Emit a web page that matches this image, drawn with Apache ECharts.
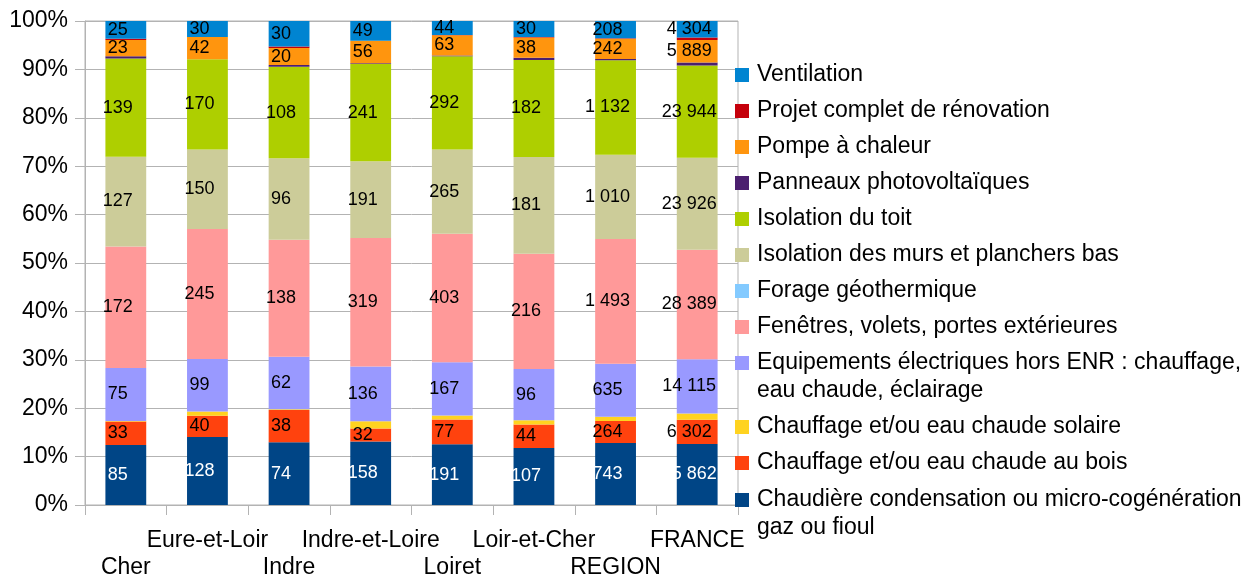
<!DOCTYPE html>
<html>
<head>
<meta charset="utf-8">
<script src="https://cdn.jsdelivr.net/npm/echarts@6/dist/echarts.min.js"></script>
<style>
html,body{margin:0;padding:0;background:#fff;}
#chart{width:1251px;height:575px;}
</style>
</head>
<body>
<div id="chart"></div>
<script>
const categories = ['Cher','Eure-et-Loir','Indre','Indre-et-Loire','Loiret','Loir-et-Cher','REGION','FRANCE'];
const chaudiere   = [85,128,74,158,191,107,743,15862];
const bois        = [33,40,38,32,77,44,264,6302];
const solaire     = [1,8,1,18,13,8,49,1600];
const electrique  = [75,99,62,136,167,96,635,14115];
const fenetres    = [172,245,138,319,403,216,1493,28389];
const geothermie  = [0,0,0,0,0,0,0,0];
const isolMurs    = [127,150,96,191,265,181,1010,23926];
const isolToit    = [139,170,108,241,292,182,1132,23944];
const photovolt   = [3,0,2,2,3,4,14,750];
const pac         = [23,42,20,56,63,38,242,5889];
const projet      = [2,0,2,0,1,1,6,600];
const ventilation = [25,30,30,49,44,30,208,4304];
const yTickLabels = ['0%','10%','20%','30%','40%','50%','60%','70%','80%','90%','100%'];

const N_CHAUD = 'Chaudière condensation ou micro-cogénération\ngaz ou fioul';
const N_BOIS = 'Chauffage et/ou eau chaude au bois';
const N_SOL = 'Chauffage et/ou eau chaude solaire';
const N_ELEC = 'Equipements électriques hors ENR : chauffage,\neau chaude, éclairage';
const N_FEN = 'Fenêtres, volets, portes extérieures';
const N_GEO = 'Forage géothermique';
const N_MURS = 'Isolation des murs et planchers bas';
const N_TOIT = 'Isolation du toit';
const N_PV = 'Panneaux photovoltaïques';
const N_PAC = 'Pompe à chaleur';
const N_PROJ = 'Projet complet de rénovation';
const N_VENT = 'Ventilation';

const seriesDefs = [
  {name:N_CHAUD, data:chaudiere, color:'#004586', label:true, labelColor:'#ffffff'},
  {name:N_BOIS, data:bois, color:'#ff420e', label:true},
  {name:N_SOL, data:solaire, color:'#ffd320', label:false},
  {name:N_ELEC, data:electrique, color:'#9999ff', label:true},
  {name:N_FEN, data:fenetres, color:'#ff9999', label:true},
  {name:N_GEO, data:geothermie, color:'#83caff', label:false},
  {name:N_MURS, data:isolMurs, color:'#cccc99', label:true},
  {name:N_TOIT, data:isolToit, color:'#aecf00', label:true},
  {name:N_PV, data:photovolt, color:'#4b1f6f', label:false},
  {name:N_PAC, data:pac, color:'#ff950e', label:true},
  {name:N_PROJ, data:projet, color:'#c5000b', label:false},
  {name:N_VENT, data:ventilation, color:'#0084d1', label:true}
];

const totals = categories.map((c,i)=>seriesDefs.reduce((s,d)=>s+d.data[i],0));
function fmt(v){ return String(v).replace(/\B(?=(\d{3})+(?!\d))/g,' '); }

const FONT = '"Liberation Sans", Arial, sans-serif';

const series = seriesDefs.map(d=>({
  name:d.name,
  type:'bar',
  stack:'total',
  barWidth:'50%',
  itemStyle:{color:d.color},
  data:d.data.map((v,i)=>v/totals[i]*100),
  label:{
    show:d.label,
    position:'inside',
    offset:[-8,0],
    color:d.labelColor||'#000000',
    fontSize:18,
    fontFamily:FONT,
    formatter:(p)=>fmt(d.data[p.dataIndex])
  },
  emphasis:{disabled:true}
}));

const legendText = {fontSize:23, fontFamily:FONT, color:'#000', lineHeight:28, padding:[0,0,0,3]};
const legendBase = {
  orient:'vertical', left:735, padding:0, itemWidth:14, itemHeight:14, itemGap:8,
  icon:'rect', selectedMode:false, textStyle:legendText,
  formatter:(name)=> name.indexOf('\n')>=0 ? '\n'+name : name
};

const option = {
  animation:false,
  backgroundColor:'#ffffff',
  grid:{left:85, right:513, top:21, bottom:70, show:true, borderColor:'#b3b3b3', borderWidth:1,
        containLabel:false, outerBoundsMode:'none'},
  legend:[
    Object.assign({}, legendBase, {top:61, data:[N_VENT,N_PROJ,N_PAC,N_PV,N_TOIT,N_MURS,N_GEO,N_FEN]}),
    Object.assign({}, legendBase, {top:321, data:[N_ELEC, N_SOL, N_BOIS]}),
    Object.assign({}, legendBase, {top:458, data:[N_CHAUD]})
  ],
  xAxis:{
    type:'category',
    data:categories,
    boundaryGap:true,
    axisLine:{lineStyle:{color:'#b3b3b3'}},
    axisTick:{show:true, length:10, alignWithLabel:false, interval:0, lineStyle:{color:'#b3b3b3'}},
    axisLabel:{interval:0, fontSize:23, fontFamily:FONT, color:'#000', lineHeight:27, margin:22,
      formatter:(v,i)=> i%2===0 ? '\n'+v : v}
  },
  yAxis:{
    type:'value',
    min:0, max:100, interval:10,
    axisLine:{show:true, lineStyle:{color:'#b3b3b3'}},
    axisTick:{show:true, length:10, lineStyle:{color:'#b3b3b3'}},
    splitLine:{lineStyle:{color:'#b3b3b3'}},
    axisLabel:{fontSize:23, fontFamily:FONT, color:'#000', margin:17,
      formatter:(v)=>yTickLabels[Math.round(v/10)]}
  },
  series:series
};

const chart = echarts.init(document.getElementById('chart'), null, {renderer:'canvas'});
chart.setOption(option);
</script>
</body>
</html>
